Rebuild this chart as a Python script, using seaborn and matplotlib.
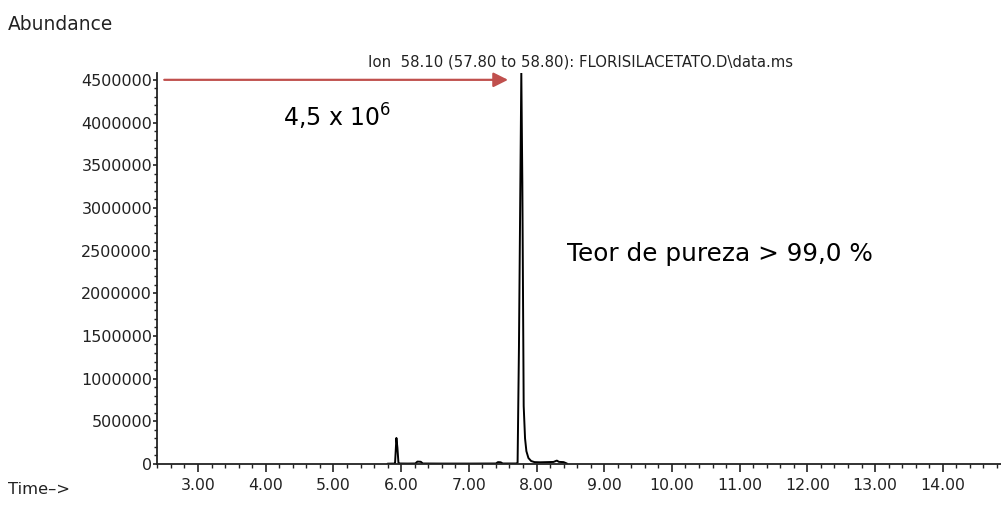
import matplotlib
matplotlib.use('Agg')
import matplotlib.pyplot as plt
import matplotlib.ticker as mticker
import seaborn as sns
import pandas as pd

# retention time (min) and abundance
time_min = [5.80, 5.90, 5.91, 5.93, 5.945, 5.96, 5.98, 6.10, 6.21, 6.24, 6.29, 6.32,
            6.60, 7.00, 7.40, 7.43, 7.47, 7.50, 7.70, 7.72, 7.74, 7.775, 7.79, 7.81,
            7.83, 7.85, 7.88, 7.92, 7.97, 8.05, 8.15, 8.25, 8.30, 8.33, 8.40, 8.45]
abundance = [4000, 5000, 8000, 305000, 190000, 15000, 6000, 5000, 6000, 28000, 26000, 6000,
             5000, 5000, 6000, 22000, 20000, 6000, 6000, 15000, 1360000, 4580000, 3300000, 680000,
             300000, 150000, 70000, 35000, 22000, 20000, 22000, 24000, 40000, 25000, 22000, 5000]

x_ticks = [3, 4, 5, 6, 7, 8, 9, 10, 11, 12, 13, 14]
y_ticks = [0, 500000, 1000000, 1500000, 2000000, 2500000, 3000000, 3500000, 4000000, 4500000]

df = pd.DataFrame({'time': time_min, 'abundance': abundance})

sns.set_style('white')
plt.rcParams['font.family'] = ['DejaVu Sans']
plt.rcParams['mathtext.default'] = 'regular'

W, H = 1001, 505
fig = plt.figure(figsize=(W / 100, H / 100), dpi=100)
ax = fig.add_axes([157 / W, 1 - 464 / H, 1 - 157 / W, (464 - 73) / H])

sns.lineplot(data=df, x='time', y='abundance', ax=ax, color='black', linewidth=1.4,
             estimator=None, sort=False)

ax.set_xlim(2.394, 14.86)
ax.set_ylim(0, 4.58e6)
ax.set_xticks(x_ticks)
ax.set_xticklabels([f'{t:.2f}' for t in x_ticks])
ax.xaxis.set_minor_locator(mticker.MultipleLocator(0.2))
ax.set_yticks(y_ticks)
ax.set_yticklabels([str(v) for v in y_ticks])
ax.yaxis.set_minor_locator(mticker.MultipleLocator(100000))
ax.set_xlabel('')
ax.set_ylabel('')

for s in ['top', 'right']:
    ax.spines[s].set_visible(False)
for s in ['left', 'bottom']:
    ax.spines[s].set_color('#222222')
    ax.spines[s].set_linewidth(1.3)

ax.tick_params(axis='x', which='major', direction='out', length=6, width=1.2,
               labelsize=11.3, pad=4, colors='#222222')
ax.tick_params(axis='x', which='minor', direction='out', length=3, width=1.0, colors='#222222')
ax.tick_params(axis='y', which='major', direction='out', length=3, width=1.2,
               labelsize=11.5, pad=0.5, colors='#222222')
ax.tick_params(axis='y', which='minor', direction='out', length=2.5, width=1.0, colors='#222222')
ax.tick_params(bottom=True, left=True, which='both')

# red arrow pointing at the peak maximum
ax.annotate('', xy=(7.62, 4.5e6), xytext=(2.46, 4.5e6),
            arrowprops=dict(arrowstyle='-|>', color='#c0504d', lw=1.6, mutation_scale=22))

def px(x, y):
    return x / W, 1 - y / H

fig.text(*px(8, 25), 'Abundance', fontsize=13.4, color='#222222', va='center', ha='left')
fig.text(*px(8, 490), 'Time–>', fontsize=11.8, color='#222222', va='center', ha='left')
fig.text(*px(581, 62), 'Ion  58.10 (57.80 to 58.80): FLORISILACETATO.D\\data.ms',
         fontsize=10.7, color='#222222', va='center', ha='center')
fig.text(*px(283, 117), '4,5 x 10$^{6}$', fontsize=17, color='black', va='center', ha='left')
fig.text(*px(567, 254), 'Teor de pureza > 99,0 %', fontsize=17.8, color='black',
         va='center', ha='left')

fig.savefig('out.png', dpi=100)
